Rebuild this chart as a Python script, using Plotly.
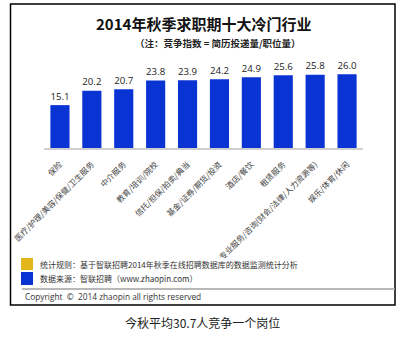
import plotly.graph_objects as go

W, H = 412, 337

categories = ["保险", "医疗/护理/美容/保健/卫生服务", "中介服务", "教育/培训/院校",
              "信托/担保/拍卖/典当", "基金/证券/期货/投资", "酒店/餐饮", "租赁服务",
              "专业服务/咨询(财会/法律/人力资源等)", "娱乐/体育/休闲"]
values = [15.1, 20.2, 20.7, 23.8, 23.9, 24.2, 24.9, 25.6, 25.8, 26.0]
value_labels = [f"{v:.1f}" for v in values]

title = "2014年秋季求职期十大冷门行业"
subtitle = "（注：竞争指数 = 简历投递量/职位量）"
legend_items = ["统计规则：基于智联招聘2014年秋季在线招聘数据库的数据监测统计分析",
                "数据来源：智联招聘（www.zhaopin.com）"]
legend_colors = ["#E3B61E", "#0A33D4"]
copyright_text = "Copyright  ©  2014 zhaopin all rights reserved"
caption = "今秋平均30.7人竞争一个岗位"

BAR = "#0A33D4"
FONT = "Noto Sans CJK SC, Noto Sans, sans-serif"

def px(x):
    return x / W

def py(y):
    return 1 - y / H

fig = go.Figure(go.Bar(
    x=categories, y=values, marker_color=BAR, marker_line_width=0,
    text=value_labels, textposition="outside", cliponaxis=False,
    textfont=dict(size=11, color="#222", family="Open Sans, sans-serif"),
))

fig.update_layout(
    width=W, height=H, margin=dict(l=0, r=0, t=0, b=0, autoexpand=False),
    paper_bgcolor="white", plot_bgcolor="white",
    showlegend=False, bargap=0.40,
    font=dict(family=FONT),
    xaxis=dict(domain=[px(44), px(363)], tickangle=-45, automargin=False,
               tickfont=dict(size=8, color="#444", family=FONT),
               showline=True, linecolor="#cfcfcf", linewidth=1.5,
               ticklabelstandoff=7,
               showgrid=False, ticks="", fixedrange=True),
    yaxis=dict(domain=[py(148), py(60)], range=[0, 31], visible=False, automargin=False,
               showgrid=False, zeroline=False),
)

shapes = [
    dict(type="rect", xref="paper", yref="paper", x0=px(10.5), x1=px(395), y0=py(305), y1=py(4),
         line=dict(color="black", width=1.5), fillcolor="rgba(0,0,0,0)"),
    dict(type="line", xref="paper", yref="paper", x0=px(22), x1=px(395), y0=py(289), y1=py(289),
         line=dict(color="#a0a0a0", width=1.5)),
]
ys = [(258, 270), (272, 285)]
for (y0, y1), c in zip(ys, legend_colors):
    shapes.append(dict(type="rect", xref="paper", yref="paper", x0=px(21), x1=px(33),
                       y0=py(y1), y1=py(y0), line=dict(width=0), fillcolor=c))
fig.update_layout(shapes=shapes)

ann = [
    dict(text=f"<b>{title}</b>", x=px(203), y=py(23), font=dict(size=15, color="#111")),
    dict(text=f"<b>{subtitle}</b>", x=px(218), y=py(43), font=dict(size=9.5, color="#222")),
    dict(text=caption, x=px(202), y=py(322), font=dict(size=12, color="#222")),
]
for (y0, y1), t in zip(ys, legend_items):
    ann.append(dict(text=t, x=px(38), y=py((y0 + y1) / 2), xanchor="left",
                    font=dict(size=8, color="#333")))
ann.append(dict(text=copyright_text, x=px(23), y=py(296), xanchor="left",
                font=dict(size=8.3, color="#333", family="Open Sans, sans-serif")))
for a in ann:
    a.setdefault("xanchor", "center")
    a.update(xref="paper", yref="paper", yanchor="middle", showarrow=False)
fig.update_layout(annotations=ann)

fig.write_html("out.html", config={"displayModeBar": False})
